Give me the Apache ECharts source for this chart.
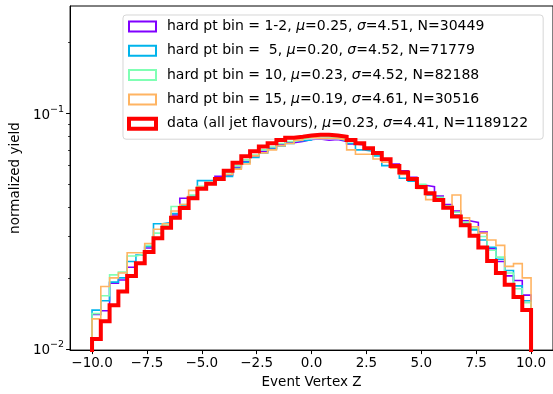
<!DOCTYPE html>
<html><head><meta charset="utf-8">
<script src="https://cdn.jsdelivr.net/npm/echarts@6/dist/echarts.min.js"></script>
<style>html,body{margin:0;padding:0;background:#fff}#c{width:553px;height:394px}</style>
</head><body><div id="c"></div>
<script>
const binStart = -10, binWidth = 0.4;
const seriesNames = [
  'hard pt bin = 1-2, μ=0.25, σ=4.51, N=30449',
  'hard pt bin =  5, μ=0.20, σ=4.52, N=71779',
  'hard pt bin = 10, μ=0.23, σ=4.52, N=82188',
  'hard pt bin = 15, μ=0.19, σ=4.61, N=30516',
  'data (all jet flavours), μ=0.23, σ=4.41, N=1189122'
];
const colors = ['#8000ff', '#00b4eb', '#80ffb4', '#ffb462', '#ff0000'];
const widths = [1.6, 1.6, 1.6, 1.6, 4];
const bin12 = [0.0140,0.0145,0.0190,0.0196,0.0222,0.0229,0.0268,0.0295,0.0330,0.0370,
  0.0436,0.0440,0.0478,0.0505,0.0540,0.0546,0.0590,0.0625,0.0660,0.0690,
  0.0712,0.0735,0.0750,0.0760,0.0775,0.0778,0.0770,0.0775,0.0760,0.0742,
  0.0735,0.0705,0.0668,0.0640,0.0610,0.0570,0.0535,0.0495,0.0488,0.0445,
  0.0410,0.0385,0.0350,0.0344,0.0313,0.0266,0.0235,0.0204,0.0195,0.0169];
const bin5 = [0.0146,0.0160,0.0192,0.0200,0.0235,0.0250,0.0272,0.0340,0.0344,0.0375,
  0.0405,0.0445,0.0518,0.0520,0.0525,0.0540,0.0585,0.0620,0.0650,0.0680,
  0.0705,0.0728,0.0745,0.0765,0.0770,0.0790,0.0795,0.0780,0.0765,0.0745,
  0.0700,0.0690,0.0660,0.0600,0.0590,0.0530,0.0515,0.0490,0.0450,0.0430,
  0.0400,0.0370,0.0340,0.0320,0.0290,0.0270,0.0240,0.0215,0.0185,0.0160];
const bin10 = [0.0141,0.0168,0.0206,0.0212,0.0248,0.0252,0.0275,0.0310,0.0335,0.0402,
  0.0410,0.0450,0.0490,0.0510,0.0530,0.0560,0.0600,0.0635,0.0665,0.0700,
  0.0720,0.0745,0.0760,0.0775,0.0790,0.0800,0.0795,0.0790,0.0785,0.0760,
  0.0740,0.0705,0.0670,0.0635,0.0600,0.0560,0.0530,0.0500,0.0460,0.0440,
  0.0405,0.0380,0.0345,0.0325,0.0300,0.0262,0.0245,0.0210,0.0180,0.0157];
const bin15 = [0.0134,0.0184,0.0200,0.0210,0.0256,0.0256,0.0280,0.0322,0.0340,0.0385,
  0.0410,0.0471,0.0485,0.0500,0.0520,0.0550,0.0580,0.0610,0.0660,0.0680,
  0.0700,0.0730,0.0745,0.0770,0.0790,0.0785,0.0784,0.0784,0.0770,0.0700,
  0.0671,0.0671,0.0640,0.0620,0.0585,0.0550,0.0525,0.0480,0.0430,0.0425,
  0.0400,0.0450,0.0360,0.0330,0.0310,0.0290,0.0275,0.0224,0.0230,0.0200];
const dataAll = [0.0110,0.0131,0.0153,0.0175,0.0204,0.0231,0.0258,0.0295,0.0327,0.0360,
  0.0396,0.0436,0.0479,0.0503,0.0527,0.0570,0.0617,0.0658,0.0690,0.0724,
  0.0747,0.0771,0.0788,0.0796,0.0806,0.0811,0.0811,0.0806,0.0796,0.0771,
  0.0747,0.0712,0.0679,0.0638,0.0598,0.0561,0.0527,0.0487,0.0458,0.0429,
  0.0397,0.0365,0.0335,0.0302,0.0269,0.0236,0.0210,0.0187,0.0166,0.0146];
const allSeries = [bin12, bin5, bin10, bin15, dataAll];
const xTicks = [-10, -7.5, -5, -2.5, 0, 2.5, 5, 7.5, 10];
const yTicks = [0.01, 0.1];
const yMinorTicks = [0.02,0.03,0.04,0.05,0.06,0.07,0.08,0.09,0.2];
const xMin = -11, xMax = 11, yMin = 0.00987, yMax = 0.286;

function stepData(vals) {
  const pts = [[binStart, 1e-4]];
  vals.forEach((v, i) => {
    const x0 = binStart + i * binWidth;
    pts.push([x0, v], [x0 + binWidth, v]);
  });
  pts.push([binStart + vals.length * binWidth, 1e-4]);
  return pts;
}

const font = 'DejaVu Sans';
const chart = echarts.init(document.getElementById('c'), null, {renderer: 'canvas'});
chart.setOption({
  animation: false,
  backgroundColor: '#fff',
  grid: {left: 67, right: -4, top: 6, bottom: 35, show: true, borderColor: '#000', borderWidth: 1, containLabel: false},
  legend: {
    left: 123, top: 15, orient: 'vertical',
    icon: 'rect', itemWidth: 27, itemHeight: 10, itemGap: 9.3,
    padding: [4, 15, 8, 4],
    backgroundColor: 'rgba(255,255,255,0.8)',
    borderColor: 'rgba(204,204,204,0.8)', borderWidth: 1, borderRadius: 3,
    textStyle: {fontFamily: font, fontSize: 14, color: '#000', lineHeight: 15, padding: [0,0,0,6],
      rich: {i: {fontFamily: font, fontSize: 14, fontStyle: 'italic', color: '#000'}}},
    formatter: n => n.replace(/([μσ])/g, '{i|$1}'),
    data: seriesNames.map((n, i) => ({
      name: n,
      itemStyle: {color: 'rgba(0,0,0,0)', borderColor: colors[i], borderWidth: i === 4 ? 4 : 2}
    }))
  },
  xAxis: {
    type: 'value', min: xMin, max: xMax,
    name: 'Event Vertex Z', nameLocation: 'middle', nameGap: 19,
    nameTextStyle: {fontFamily: font, fontSize: 13.5, color: '#000'},
    axisLine: {show: true, onZero: false, lineStyle: {color: '#000', width: 1}},
    axisTick: {show: true, length: 4, customValues: xTicks, lineStyle: {color: '#000'}},
    axisLabel: {customValues: xTicks, margin: 6, fontFamily: font, fontSize: 13.5, color: '#000',
      formatter: v => (v < 0 ? '\u2212' : '') + Math.abs(v).toFixed(1)},
    splitLine: {show: false}
  },
  yAxis: [{
    type: 'log', logBase: 10, min: yMin, max: yMax,
    name: 'normalized yield', nameLocation: 'middle', nameGap: 45,
    nameTextStyle: {fontFamily: font, fontSize: 13.5, color: '#000'},
    axisLine: {show: true, onZero: false, lineStyle: {color: '#000', width: 1}},
    axisTick: {show: true, length: 4, customValues: yTicks, lineStyle: {color: '#000'}},
    axisLabel: {customValues: yTicks, margin: 6, fontFamily: font, color: '#000',
      formatter: v => '{b|10}{s|\u2212' + Math.abs(Math.round(Math.log10(v))) + '}',
      rich: {b: {fontFamily: font, fontSize: 13.5, color: '#000', verticalAlign: 'bottom', lineHeight: 18},
             s: {fontFamily: font, fontSize: 9.5, color: '#000', verticalAlign: 'top', lineHeight: 18}}},
    splitLine: {show: false}
  }, {
    type: 'log', logBase: 10, min: yMin, max: yMax, position: 'left',
    axisLine: {show: false, onZero: false},
    axisTick: {show: true, length: 2, customValues: yMinorTicks, lineStyle: {color: '#000', width: 0.8}},
    axisLabel: {show: false},
    splitLine: {show: false}
  }],
  series: allSeries.map((vals, i) => ({
    name: seriesNames[i], type: 'line', data: stepData(vals),
    showSymbol: false, symbol: 'none', clip: true, z: 2 + i,
    lineStyle: {color: colors[i], width: widths[i], join: 'miter'},
    itemStyle: {color: colors[i]}
  }))
});
</script>
</body></html>
